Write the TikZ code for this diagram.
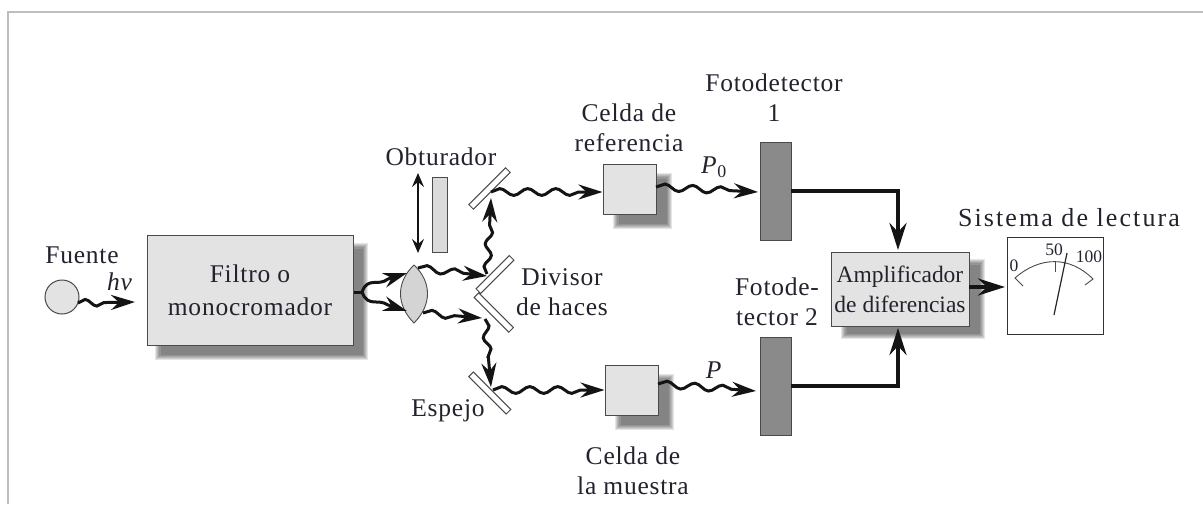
\documentclass[tikz,border=0pt]{standalone}
\usepackage{fontspec}
\setmainfont[LetterSpace=3]{Liberation Serif}
\newfontfamily\tightfont{Liberation Serif}
\newfontfamily\widefont[LetterSpace=8]{Liberation Serif}
\usetikzlibrary{arrows.meta,decorations.pathmorphing,calc}
\definecolor{ink}{HTML}{23232E}
\definecolor{boxfill}{HTML}{E3E3E3}
\definecolor{edge}{HTML}{4A4A4A}
\definecolor{frameg}{HTML}{BEBEBE}
\tikzset{
  lbl/.style={font=\fontsize{25.5}{30}\selectfont,text=ink,align=center,inner sep=0pt},
  metertext/.style={font=\tightfont\fontsize{17.5}{20}\selectfont,text=ink,inner sep=0pt},
  box/.style={draw=edge,line width=1pt,fill=boxfill,inner sep=0pt,rectangle},
  detector/.style={draw=edge,line width=0.8pt,fill=black!46,inner sep=0pt,rectangle,minimum width=31pt,minimum height=98pt},
  mirror/.style={draw=edge,line width=1pt,fill=white,inner sep=0pt,rectangle,minimum height=6.5pt},
  tip/.style={-{Stealth[length=24pt,width=15pt,inset=8pt]}},
  wave/.style={tip,line width=3pt,black!92,decorate,decoration={snake,segment length=28pt,amplitude=3.4pt,post length=22pt}},
  shortwave/.style={tip,line width=3pt,black!92,decorate,decoration={snake,segment length=23pt,amplitude=3.4pt,post length=22pt}},
  plainarrow/.style={tip,line width=3pt,black!92},
  heavy/.style={-{Stealth[length=27pt,width=17pt,inset=9pt]},line width=4pt,black!92},
}
\newcommand{\softshadow}[4]{%
  \foreach \i in {0,1,...,5}{
    \fill[black,opacity=0.10] ({#1-3+\i*1.1},{#2-3+\i*1.1}) rectangle ({#3+3-\i*1.1},{#4+3-\i*1.1});
  }}
\begin{document}
\begin{tikzpicture}[x=1pt,y=-1pt]
\useasboundingbox (0,0) rectangle (1203,504);
\fill[white] (0,0) rectangle (1203,504);
\draw[frameg,line width=2pt] (8,504) -- (8,12) -- (1203,12);
% shadows
\softshadow{158}{246}{365}{357}
\softshadow{616}{176}{669}{226}
\softshadow{618}{377}{671}{427}
\softshadow{844}{262}{982}{336}
% boxes
\node[box,minimum width=206pt,minimum height=110pt,align=center,font=\fontsize{25.5}{31}\selectfont,text=ink] (filt) at (250,290) {\raisebox{2pt}{Filtro o}\\monocromador};
\node[box,circle,minimum size=34pt] (src) at (62,297) {};
\node[box,minimum width=53pt,minimum height=50pt] (ref) at (629.5,189) {};
\node[box,minimum width=53pt,minimum height=50pt] (sam) at (631.5,390) {};
\node[detector] (d1) at (775.5,191) {};
\node[detector] (d2) at (775.5,386) {};
\node[box,minimum width=138pt,minimum height=74pt,align=center,font=\tightfont\fontsize{23.5}{30}\selectfont,text=ink] (amp) at (900,289) {Amplificador\\de diferencias};
\node[draw=black!80,line width=0.9pt,fill=white,inner sep=0pt,minimum width=96pt,minimum height=97pt] (meter) at (1055,285.5) {};
\node[draw=edge,line width=0.8pt,fill=black!14,inner sep=0pt,minimum width=15pt,minimum height=75pt] (shut) at (439.5,214.5) {};
% mirrors
\node[mirror,minimum width=52pt,rotate=45] (m1) at (489.5,188.5) {};
\node[mirror,minimum width=47pt,rotate=45] (m2) at (495,274.5) {};
\node[mirror,minimum width=49pt,rotate=-45] (m3) at (493.8,312.5) {};
\node[mirror,minimum width=53pt,rotate=-45] (m4) at (489.8,393) {};
% lens
\coordinate (lt) at (414,265);
\coordinate (lb) at (414,323);
\draw[edge,line width=0.9pt,fill=black!17] (lt) .. controls (432,282) and (432,305) .. (lb) .. controls (396,305) and (396,282) .. (lt);
% connection points
\coordinate (fork) at (362,292);
\coordinate (lin1) at (407,273);
\coordinate (lin2) at (407,311);
\coordinate (lo1) at (418,268);
\coordinate (lo2) at (423,313);
\coordinate (h1) at (487,276);
\coordinate (h2) at (482,318);
\coordinate (j1) at (487,274);
\coordinate (j2) at (485,319);
\coordinate (m1in) at (491,198);
\coordinate (m1out) at (491,192);
\coordinate (m4in) at (491,387);
\coordinate (m4out) at (493,390);
\coordinate (r1) at (656,187);
\coordinate (s1) at (658,384);
\coordinate (srcout) at (78,303);
\coordinate (srcin) at (135,302);
\coordinate (amptop) at (898,250);
\coordinate (ampbot) at (898,328);
\coordinate (ampout) at (969,287);
\coordinate (meterin) at (1005,287);
\coordinate (d1tip) at (758,192);
\coordinate (d2tip) at (756,391);
\coordinate (f1) at (368,276);
\coordinate (f2) at (378,287);
\coordinate (f3) at (388,279);
\coordinate (g1) at (368,308);
\coordinate (g2) at (378,298);
\coordinate (g3) at (388,305);
% waves
\draw[line width=3pt,black!92] (filt.east |- fork) -- (fork);
\draw[plainarrow] (fork) .. controls (f1) and (f2) .. (f3) -- (lin1);
\draw[plainarrow] (fork) .. controls (g1) and (g2) .. (g3) -- (lin2);
\draw[wave] (lo1) -- (h1);
\draw[wave] (lo2) -- (h2);
\draw[shortwave] (j1) -- (m1in);
\draw[shortwave] (j2) -- (m4in);
\draw[wave] (m1out) -- (ref.west |- m1out);
\draw[wave] (m4out) -- (sam.west |- m4out);
\draw[shortwave] (srcout) -- (srcin);
\draw[wave] (r1) -- (d1tip);
\draw[wave] (s1) -- (d2tip);
% detector lines
\draw[heavy] (d1.east) -| (amptop);
\draw[heavy] (d2.east) -| (ampbot);
\draw[heavy] (ampout) -- (meterin);
% shutter arrow
\coordinate (sa) at (418,173);
\coordinate (sb) at (418,253);
\draw[{Stealth[length=14pt,width=12pt,inset=5pt]}-{Stealth[length=14pt,width=12pt,inset=5pt]},line width=1.5pt,black!92] (sa) -- (sb);
% meter
\coordinate (a0) at (1015,278);
\coordinate (a1) at (1093,279);
\draw[edge,line width=0.9pt] (1023,286) -- (a0) .. controls (1040,256) and (1070,256) .. (a1) -- (1085,285);
\draw[edge,line width=0.9pt] (1055,262) -- (1055,272);
\draw[black!85,line width=1.2pt] (1054,315) -- (1067,253);
% labels
\node[lbl] (tF) at (82,255) {Fuente};
\node[lbl] (thv) at (120,282) {\textit{hν}};
\node[lbl] (tO) at (441,157) {Obturador};
\node[lbl] (tD) at (562,292) {Divisor\\de haces};
\node[lbl] (tE) at (448,411) {Espejo};
\node[lbl] (tR) at (629,128) {Celda de\\referencia};
\node[lbl] (tM) at (633,471) {Celda de\\la muestra};
\node[lbl] (tF1) at (774,98) {Fotodetector\\1};
\node[lbl] (tF2) at (777,302) {Fotode-\\tector 2};
\node[lbl] (tP0) at (714,167) {\textit{P}\textsubscript{0}};
\node[lbl] (tP) at (714,370) {\textit{P}};
\node[lbl,font=\widefont\fontsize{26}{30}\selectfont] (tS) at (1069,218) {Sistema de lectura};
\node[metertext] (t0) at (1014,266) {0};
\node[metertext] (t50) at (1054,250) {50};
\node[metertext] (t100) at (1089,257) {100};
\end{tikzpicture}
\end{document}
